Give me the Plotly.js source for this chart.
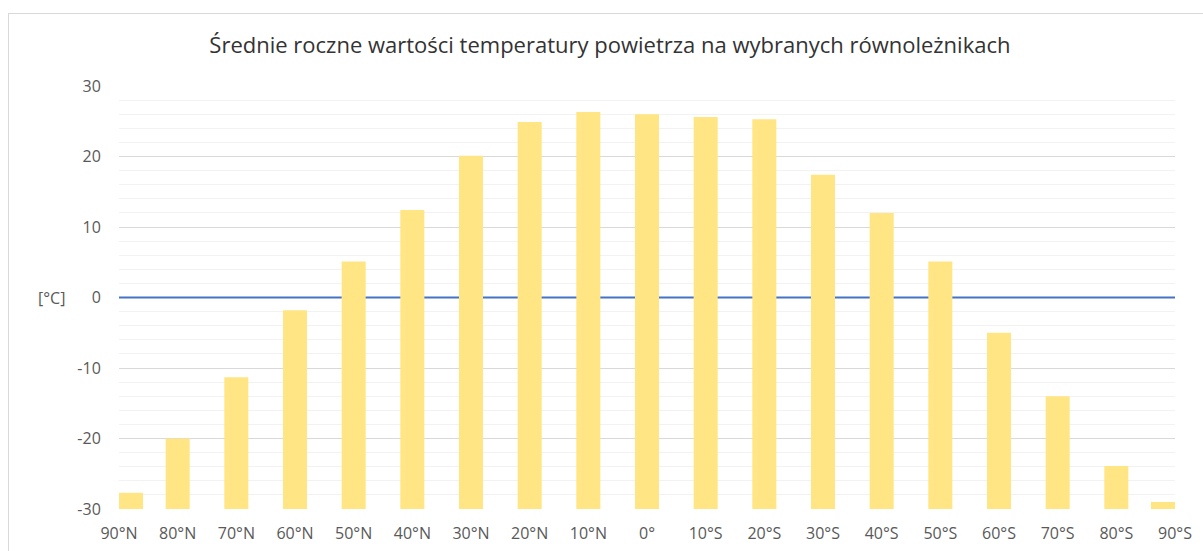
<!DOCTYPE html>
<html>
<head>
<meta charset="utf-8">
<script src="https://cdn.plot.ly/plotly-3.0.1.min.js"></script>
<style>
  html, body { margin: 0; padding: 0; background: #ffffff; overflow: hidden; }
  #frame { position: absolute; left: 8px; top: 13px; width: 1300px; height: 700px; border: 1px solid #d9d9d9; box-sizing: border-box; }
  #chart { position: absolute; left: 0; top: 0; width: 1203px; height: 551px; }
</style>
</head>
<body>
<div id="frame"></div>
<div id="chart"></div>
<script>
const categories = ["90°N","80°N","70°N","60°N","50°N","40°N","30°N","20°N","10°N","0°","10°S","20°S","30°S","40°S","50°S","60°S","70°S","80°S","90°S"];
const temperatures = [-27.7, -20.0, -11.3, -1.8, 5.1, 12.4, 20.1, 24.9, 26.3, 26.0, 25.6, 25.3, 17.4, 12.0, 5.1, -5.0, -14.0, -23.9, -29.0];
const yMin = -30;
const yMax = 30;
const yTickVals = [-30, -20, -10, 0, 10, 20, 30];
const yTickText = ["-30", "-20", "-10", "0", "10", "20", "30"];
const titleText = "Średnie roczne wartości temperatury powietrza na wybranych równoleżnikach";
const unitLabel = "[°C]";

const FONT = "Open Sans, Noto Sans, sans-serif";
const barWidth = 0.41;
const n = categories.length;
// Excel "on tick marks": edge columns are kept inside the plot area
const barOffsets = categories.map((c, i) => i === 0 ? 0 : (i === n - 1 ? -barWidth : -barWidth / 2));

const trace = {
  type: "bar",
  x: categories,
  base: yMin,
  y: temperatures.map(v => v - yMin),
  width: barWidth,
  offset: barOffsets,
  customdata: temperatures,
  hovertemplate: "%{x}: %{customdata} °C<extra></extra>",
  marker: { color: "#FFE583", line: { width: 0 } },
  cliponaxis: true
};

const layout = {
  width: 1203,
  height: 551,
  margin: { l: 119, r: 28, t: 86, b: 42 },
  paper_bgcolor: "rgba(0,0,0,0)",
  plot_bgcolor: "rgba(0,0,0,0)",
  showlegend: false,
  title: {
    text: titleText,
    x: 0.507,
    xanchor: "center",
    y: 0.918,
    yanchor: "middle",
    font: { family: FONT, size: 22, color: "#333333" }
  },
  xaxis: {
    type: "category",
    range: [0, n - 1],
    showgrid: false,
    zeroline: false,
    showline: false,
    ticks: "outside",
    ticklen: 10,
    tickcolor: "rgba(0,0,0,0)",
    tickfont: { family: FONT, size: 16, color: "#595959" },
    fixedrange: true
  },
  yaxis: {
    range: [yMin, yMax],
    tickmode: "array",
    tickvals: yTickVals,
    ticktext: yTickText,
    showgrid: true,
    gridcolor: "#d9d9d9",
    gridwidth: 1,
    minor: { dtick: 2, tick0: 0, showgrid: true, gridcolor: "#f2f2f2", gridwidth: 1 },
    zeroline: false,
    showline: false,
    ticks: "outside",
    ticklen: 14,
    tickcolor: "rgba(0,0,0,0)",
    tickfont: { family: FONT, size: 16, color: "#595959" },
    fixedrange: true
  },
  shapes: [{
    type: "line",
    layer: "between",
    xref: "x",
    yref: "y",
    x0: -1, x1: n,
    y0: 0, y1: 0,
    line: { color: "#4472C4", width: 2 }
  }],
  annotations: [{
    text: unitLabel,
    xref: "paper",
    yref: "y",
    x: -0.064,
    y: 0,
    xanchor: "center",
    yanchor: "middle",
    showarrow: false,
    font: { family: FONT, size: 16, color: "#595959" }
  }]
};

Plotly.newPlot("chart", [trace], layout, { displayModeBar: false, staticPlot: true });
</script>
</body>
</html>
